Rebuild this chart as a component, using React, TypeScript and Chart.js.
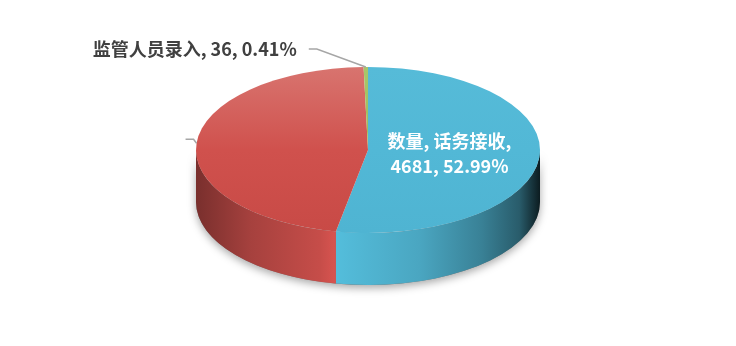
import React, { useEffect, useRef } from "react";
import { Chart, registerables } from "chart.js";

Chart.register(...registerables);

const seriesName = "数量";
const categories = ["话务接收", "其他", "监管人员录入"];
const values = [4681, 4117, 36];

const baseColors = ["#52b8d6", "#d0514d", "#9bbb59"];
const topLight = ["#56bbd8", "#d8746f", "#a8c76a"];
const topDark = ["#4fb4d2", "#c84a46", "#93b352"];

const TILT = 0.4826;
const DEPTH = 52;
const RADIUS = 172;
const FONT = 'bold 18px "Noto Sans CJK SC", "Noto Sans", sans-serif';

const sideStops: [number, number][] = [
  [0, 0.58],
  [0.16, 0.8],
  [0.36, 0.95],
  [0.4, 1.03],
  [0.65, 0.9],
  [0.83, 0.7],
  [0.94, 0.5],
  [1, 0.15],
];

function hexToRgb(h: string) {
  const n = parseInt(h.slice(1), 16);
  return [(n >> 16) & 255, (n >> 8) & 255, n & 255];
}
function shade(h: string, f: number) {
  const [r, g, b] = hexToRgb(h);
  const c = (v: number) => Math.max(0, Math.min(255, Math.round(v * f)));
  return `rgb(${c(r)},${c(g)},${c(b)})`;
}

const pie3d = {
  id: "pie3d",
  beforeDatasetsDraw(chart: any) {
    const arcs = chart.getDatasetMeta(0).data;
    if (!arcs.length) return;
    const ctx: CanvasRenderingContext2D = chart.ctx;
    const a0 = arcs[0];
    const cx = a0.x, cy = a0.y, rx = a0.outerRadius, ry = rx * TILT;

    ctx.save();
    ctx.shadowColor = "rgba(0,0,0,0.35)";
    ctx.shadowBlur = 8;
    ctx.shadowOffsetY = 3;
    ctx.beginPath();
    ctx.ellipse(cx, cy, rx, ry, 0, 0, Math.PI);
    ctx.ellipse(cx, cy + DEPTH, rx, ry, 0, Math.PI, 0, true);
    ctx.closePath();
    ctx.fillStyle = "#777";
    ctx.fill();
    ctx.restore();

    arcs.forEach((arc: any, i: number) => {
      const s = arc.startAngle, e = arc.endAngle;
      for (const k of [-1, 0, 1]) {
        const lo = Math.max(s, 2 * Math.PI * k);
        const hi = Math.min(e, 2 * Math.PI * k + Math.PI);
        if (hi <= lo) continue;
        const g = ctx.createLinearGradient(cx - rx, 0, cx + rx, 0);
        sideStops.forEach(([p, f]) => g.addColorStop(p, shade(baseColors[i], f)));
        ctx.save();
        ctx.beginPath();
        ctx.ellipse(cx, cy, rx, ry, 0, lo, hi);
        ctx.ellipse(cx, cy + DEPTH, rx, ry, 0, hi, lo, true);
        ctx.closePath();
        ctx.fillStyle = g;
        ctx.fill();
        ctx.restore();
      }
    });

    ctx.save();
    ctx.translate(cx, cy);
    ctx.scale(1, TILT);
    ctx.translate(-cx, -cy);
  },
  afterDatasetsDraw(chart: any) {
    const arcs = chart.getDatasetMeta(0).data;
    if (!arcs.length) return;
    const ctx: CanvasRenderingContext2D = chart.ctx;
    ctx.restore();
    const a0 = arcs[0];
    const cx = a0.x, cy = a0.y, rx = a0.outerRadius, ry = rx * TILT;
    const total = values.reduce((a, b) => a + b, 0);

    ctx.save();
    ctx.font = FONT;
    ctx.textBaseline = "middle";
    arcs.forEach((arc: any, i: number) => {
      const mid = (arc.startAngle + arc.endAngle) / 2;
      const pct = ((values[i] / total) * 100).toFixed(2) + "%";
      if (i === 0) {
        const x = cx + 0.476 * rx * Math.cos(mid);
        const y = cy + 0.476 * ry * Math.sin(mid);
        ctx.fillStyle = "#ffffff";
        ctx.textAlign = "center";
        ctx.fillText(`${seriesName}, ${categories[i]},`, x, y - 12.5);
        ctx.fillText(`${values[i]}, ${pct}`, x, y + 12.5);
      } else {
        const px = cx + rx * Math.cos(mid);
        const py = cy + ry * Math.sin(mid);
        ctx.strokeStyle = "#a6a6a6";
        ctx.lineWidth = 1.5;
        ctx.beginPath();
        ctx.moveTo(px, py);
        if (i === 2) {
          const ex = px - 49, ey = py - 18;
          ctx.lineTo(ex, ey);
          ctx.lineTo(ex - 8, ey);
          ctx.stroke();
          ctx.fillStyle = "#404040";
          ctx.textAlign = "right";
          ctx.fillText(`${categories[i]}, ${values[i]}, ${pct}`, ex - 20, ey);
        } else {
          ctx.lineTo(px - 3, py - 4);
          ctx.lineTo(px - 11, py - 4);
          ctx.stroke();
        }
      }
    });
    ctx.restore();
  },
};

export default function App() {
  const ref = useRef<HTMLCanvasElement>(null);
  useEffect(() => {
    if (!ref.current) return;
    const chart = new Chart(ref.current, {
      type: "pie",
      data: {
        labels: categories,
        datasets: [
          {
            label: seriesName,
            data: values,
            clip: false as any,
            borderWidth: 0,
            backgroundColor: (c: any) => {
              const ch = c.chart;
              const area = ch.chartArea;
              const i = c.dataIndex ?? 0;
              if (!area) return baseColors[i];
              const cy = (area.top + area.bottom) / 2;
              const g = ch.ctx.createLinearGradient(0, cy - RADIUS, 0, cy + RADIUS);
              g.addColorStop(0, topLight[i]);
              g.addColorStop(0.5, baseColors[i]);
              g.addColorStop(1, topDark[i]);
              return g;
            },
          },
        ],
      },
      options: {
        animation: false,
        responsive: true,
        maintainAspectRatio: false,
        radius: RADIUS,
        layout: { padding: { top: 0, bottom: 46, left: 0, right: 0 } },
        plugins: { legend: { display: false }, tooltip: { enabled: false } },
      } as any,
      plugins: [pie3d],
    });
    return () => chart.destroy();
  }, []);
  return (
    <div style={{ position: "relative", width: 720, height: 330 }}>
      <canvas ref={ref} />
    </div>
  );
}
